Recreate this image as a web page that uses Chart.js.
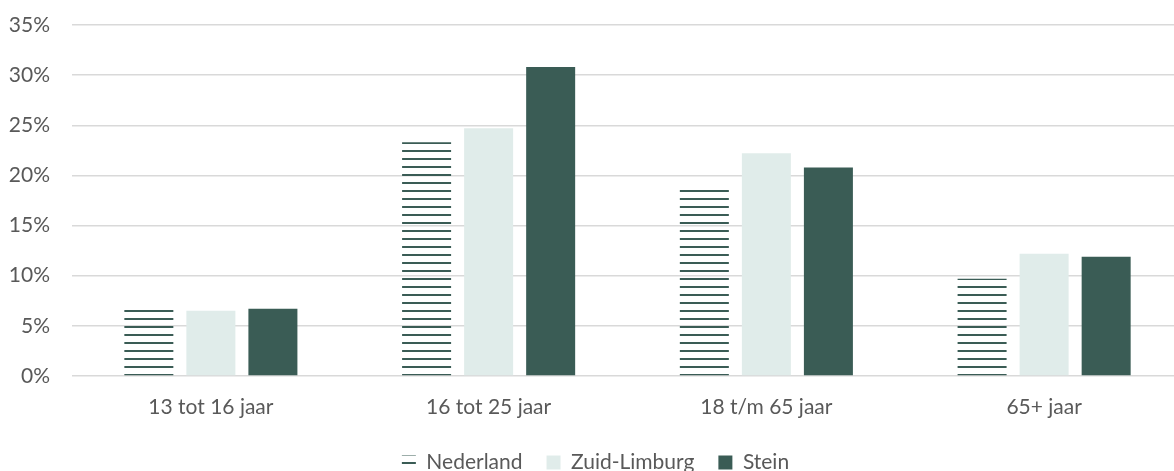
<!DOCTYPE html>
<html>
<head>
<meta charset="utf-8">
<script src="https://cdn.jsdelivr.net/npm/chart.js@4/dist/chart.umd.min.js"></script>
<style>
  html, body { margin: 0; padding: 0; background: #ffffff; overflow: hidden; }
  #outer { width: 1174px; height: 471px; overflow: hidden; position: relative; }
  #wrap { width: 1190px; height: 483px; position: relative; }
</style>
</head>
<body>
<div id="outer"><div id="wrap"><canvas id="c"></canvas></div></div>
<script>
const categories = ["13 tot 16 jaar", "16 tot 25 jaar", "18 t/m 65 jaar", "65+ jaar"];
const nederland = [6.6, 23.3, 18.6, 9.7];
const zuidLimburg = [6.5, 24.7, 22.2, 12.2];
const stein = [6.7, 30.8, 20.8, 11.9];
const seriesNames = ["Nederland", "Zuid-Limburg", "Stein"];
const yTicks = [0, 5, 10, 15, 20, 25, 30, 35];

const DARK = "#3a5c55";
const LIGHT = "#e0ecea";
const TEXT = "#595959";

function hatch() {
  const p = document.createElement("canvas");
  p.width = 8; p.height = 8;
  const g = p.getContext("2d");
  g.fillStyle = DARK;
  g.fillRect(0, 6, 8, 2);
  return g.createPattern(p, "repeat");
}
const hatchPattern = hatch();

const font = { family: "Lato, 'Open Sans', sans-serif", size: 21 };

new Chart(document.getElementById("c"), {
  type: "bar",
  data: {
    labels: categories,
    datasets: [
      { label: seriesNames[0], data: nederland, backgroundColor: hatchPattern },
      { label: seriesNames[1], data: zuidLimburg, backgroundColor: LIGHT },
      { label: seriesNames[2], data: stein, backgroundColor: DARK }
    ]
  },
  options: {
    responsive: true,
    maintainAspectRatio: false,
    animation: false,
    layout: { padding: { left: 8, right: 7, top: 25, bottom: 0 } },
    datasets: { bar: { categoryPercentage: 0.67, barPercentage: 0.79 } },
    plugins: {
      legend: {
        position: "bottom",
        labels: {
          color: TEXT, font: font, boxWidth: 14, boxHeight: 14, padding: 24,
          generateLabels(chart) {
            return chart.data.datasets.map((d, i) => ({
              text: d.label,
              fillStyle: i === 0 ? hatchPattern : d.backgroundColor,
              strokeStyle: "rgba(0,0,0,0)",
              lineWidth: 0,
              fontColor: TEXT,
              datasetIndex: i,
              hidden: false
            }));
          }
        }
      },
      tooltip: { enabled: false }
    },
    scales: {
      x: {
        grid: { display: false },
        border: { display: false },
        ticks: { color: TEXT, font: font, padding: 11 },
        afterFit(s) { s.height = 52; s.paddingLeft = 0; s.paddingRight = 0; }
      },
      y: {
        min: yTicks[0], max: yTicks[yTicks.length - 1],
        grid: { color: "#d9d9d9", lineWidth: 1.5, drawTicks: false },
        border: { display: false },
        afterBuildTicks(s) { s.ticks = yTicks.map(v => ({ value: v })); },
        ticks: { color: TEXT, font: font, padding: 22, callback: v => v + "%" },
        afterFit(s) { s.width = 64; s.paddingTop = 0; s.paddingBottom = 0; }
      }
    }
  }
});
</script>
</body>
</html>
